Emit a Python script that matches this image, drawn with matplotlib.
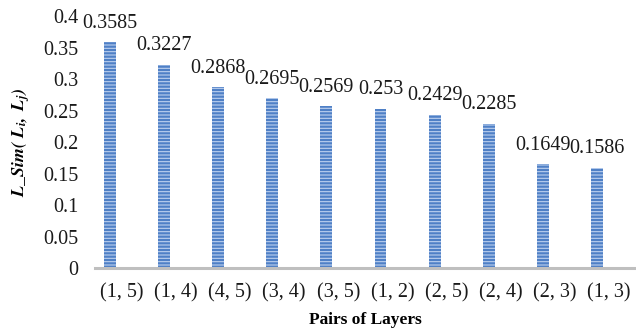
import matplotlib
matplotlib.use('Agg')
import matplotlib.pyplot as plt
import numpy as np

pairs = ['(1, 5)', '(1, 4)', '(4, 5)', '(3, 4)', '(3, 5)',
         '(1, 2)', '(2, 5)', '(2, 4)', '(2, 3)', '(1, 3)']
l_sim = [0.3585, 0.3227, 0.2868, 0.2695, 0.2569,
         0.253, 0.2429, 0.2285, 0.1649, 0.1586]
value_labels = ['0.3585', '0.3227', '0.2868', '0.2695', '0.2569',
                '0.253', '0.2429', '0.2285', '0.1649', '0.1586']
y_ticks = [0, 0.05, 0.1, 0.15, 0.2, 0.25, 0.3, 0.35, 0.4]
y_tick_labels = ['0', '0.05', '0.1', '0.15', '0.2', '0.25', '0.3', '0.35', '0.4']

plt.rcParams['font.family'] = 'Liberation Serif'
plt.rcParams['mathtext.fontset'] = 'stix'
plt.rcParams['hatch.color'] = '#bcd0ef'
plt.rcParams['hatch.linewidth'] = 0.8

fig = plt.figure(figsize=(6.36, 3.29), dpi=100)
ax = fig.add_axes([0.149, 0.185, 0.851, 0.766])

x = np.arange(len(pairs))
bar_x = x - 0.22
ax.bar(bar_x, l_sim, width=0.22, color='#4f80c6',
       edgecolor='#bcd0ef', linewidth=0, hatch='-----')

for bx, v, lab in zip(bar_x, l_sim, value_labels):
    ax.annotate(lab, (bx, v), xytext=(0, 7), textcoords='offset points',
                ha='center', va='bottom', fontsize=14.5, color='#1a1a1a')

ax.set_xlim(-0.5, 9.5)
ax.set_ylim(0, 0.4)
ax.set_xticks(x)
ax.set_xticklabels(pairs, fontsize=14.5, color='#1a1a1a')
ax.set_yticks(y_ticks)
ax.set_yticklabels(y_tick_labels, fontsize=14.5, color='#1a1a1a')
ax.tick_params(axis='x', length=0, pad=11)
ax.tick_params(axis='y', length=0, pad=12)

for side in ['top', 'right', 'left']:
    ax.spines[side].set_visible(False)
ax.spines['bottom'].set_color('#bfbfbf')
ax.spines['bottom'].set_linewidth(2.2)

ax.set_xlabel('Pairs of Layers', fontsize=12.5, fontweight='bold', labelpad=7)
ax.set_ylabel(r'$\mathbfit{L\_Sim(\ L_i,\ L_j)}$', fontsize=13, labelpad=8)

plt.savefig('out.png', dpi=100)
